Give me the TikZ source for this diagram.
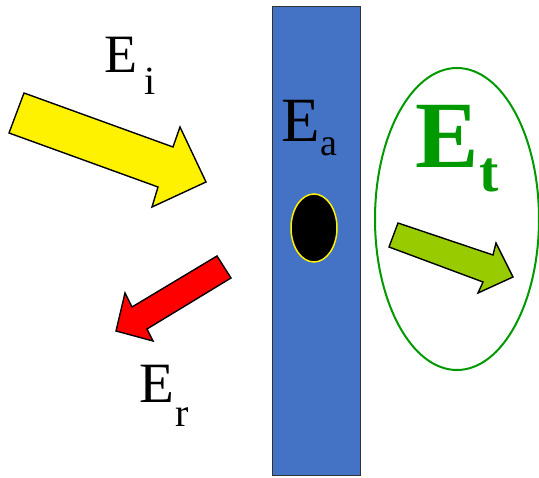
\documentclass[tikz,border=0pt]{standalone}
\usepackage{fontspec}
\setmainfont{Liberation Serif}
\definecolor{plateblue}{HTML}{4472C4}
\definecolor{etgreen}{HTML}{009900}
\definecolor{arrowgreen}{HTML}{99CC00}
\newcommand\myfs[1]{\fontsize{#1}{#1}\selectfont}
\begin{document}
\begin{tikzpicture}[x=1pt,y=-1pt,
  arrowshape/.style={draw=black,line width=1.4pt,line join=miter},
  lbl/.style={inner sep=0pt,anchor=base west}]
\useasboundingbox (0,0) rectangle (539,478);
\fill[white] (0,0) rectangle (539,478);
% plate
\draw[fill=plateblue,draw=black!80,line width=1pt] (272,7) rectangle (360,476);
% absorbing particle
\draw[fill=black,draw=yellow,line width=1.5pt] (314,228) ellipse [x radius=23pt,y radius=34pt];
% transmitted region
\draw[etgreen,line width=2pt] (457,219) ellipse [x radius=82pt,y radius=151pt];
% incident arrow
\draw[arrowshape,fill=yellow] (24,93) -- (173,147) -- (180,127) -- (206,182) -- (152,207) -- (158,187) -- (9,133) -- cycle;
% reflected arrow
\draw[arrowshape,fill=red] (217,256) -- (231,278) -- (147,329) -- (153,341) -- (116,331) -- (125,293) -- (132,307) -- cycle;
% transmitted arrow
\draw[arrowshape,fill=arrowgreen] (398,223) -- (493,255) -- (496,243) -- (513,277) -- (478,293) -- (483,282) -- (389,247) -- cycle;
% labels
\node[lbl] (ei) at (104,73) {\myfs{54}E\kern7pt\raisebox{-22pt}{\myfs{40}i}};
\node[lbl] (ea) at (281,142) {\myfs{63}E\kern1pt\raisebox{-14pt}{\myfs{38}a}};
\node[lbl] (er) at (139,403) {\myfs{57}E\kern1pt\raisebox{-24pt}{\myfs{40}r}};
\node[lbl,text=etgreen] (et) at (415,168) {\myfs{95}\bfseries E\kern1pt\raisebox{-24pt}{\myfs{58}t}};
\end{tikzpicture}
\end{document}
